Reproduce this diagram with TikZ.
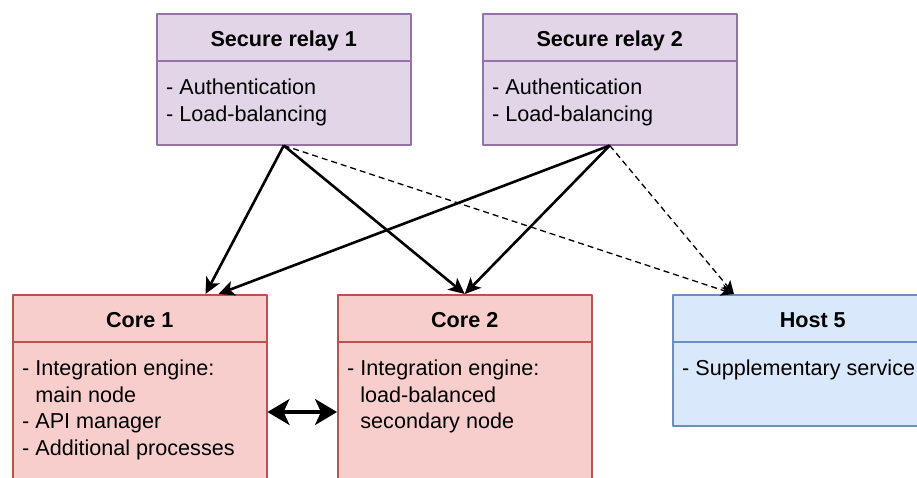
\documentclass[tikz,border=0pt]{standalone}
\usepackage{fontspec}
\setmainfont{Liberation Sans}
\usetikzlibrary{arrows.meta}
\definecolor{relayfill}{HTML}{E1D5E7}
\definecolor{relayline}{HTML}{9673A6}
\definecolor{corefill}{HTML}{F8CECC}
\definecolor{coreline}{HTML}{B85450}
\definecolor{hostfill}{HTML}{DAE8FC}
\definecolor{hostline}{HTML}{6C8EBF}
\newcommand\lanefont{\fontsize{21.6pt}{26.4pt}\selectfont}
\tikzset{
    lane/.style={draw, line width=1.5pt, anchor=north west, inner sep=0pt,
        minimum width=254pt, minimum height=131pt},
    relay/.style={lane, fill=relayfill, draw=relayline},
    core/.style={lane, fill=corefill, draw=coreline, minimum height=240pt},
    host/.style={lane, fill=hostfill, draw=hostline, minimum width=280pt},
    title/.style={anchor=base, font=\lanefont\bfseries},
    items/.style={anchor=north west, align=left, inner sep=0pt},
    link/.style={line width=2.6pt, -{Stealth[length=16pt,width=15pt,inset=4pt]}},
    maybe/.style={line width=1.3pt, dash pattern=on 6pt off 4pt,
        -{Stealth[length=13pt,width=12pt,inset=3pt]}},
    sync/.style={line width=3.2pt,
        {Stealth[length=22pt,width=26pt,inset=6pt]}-{Stealth[length=22pt,width=26pt,inset=6pt]}}
}
\begin{document}
\begin{tikzpicture}[x=1pt, y=-1pt, line join=round, font=\lanefont]
    \useasboundingbox (0,0) rectangle (917,477);
    \clip (0,0) rectangle (917,477);
    \node[relay] (r1) at (156,13) {};
    \node[relay] (r2) at (482,13) {};
    \node[core] (c1) at (12,294) {};
    \node[core] (c2) at (337,294) {};
    \node[host] (h5) at (672,294) {};
    \foreach \n/\c in {r1/relayline, r2/relayline, c1/coreline, c2/coreline, h5/hostline}
        \draw[\c, line width=1.5pt] ([yshift=-48pt]\n.north west) -- ([yshift=-48pt]\n.north east);
    \node[title] (r1t) at ([yshift=-33pt]r1.north) {Secure relay 1};
    \node[title] (r2t) at ([yshift=-33pt]r2.north) {Secure relay 2};
    \node[title] (c1t) at ([yshift=-33pt]c1.north) {Core 1};
    \node[title] (c2t) at ([yshift=-33pt]c2.north) {Core 2};
    \node[title] (h5t) at ([yshift=-33pt]h5.north) {Host 5};
    \node[items] (r1b) at ([xshift=10pt,yshift=-66pt]r1.north west) {- Authentication\\- Load-balancing};
    \node[items] (r2b) at ([xshift=10pt,yshift=-66pt]r2.north west) {- Authentication\\- Load-balancing};
    \node[items] (c1b) at ([xshift=10pt,yshift=-66pt]c1.north west)
        {- Integration engine:\\\hphantom{- }main node\\- API manager\\- Additional processes};
    \node[items] (c2b) at ([xshift=10pt,yshift=-66pt]c2.north west)
        {- Integration engine:\\\hphantom{- }load-balanced\\\hphantom{- }secondary node};
    \node[items] (h5b) at ([xshift=10pt,yshift=-66pt]h5.north west) {- Supplementary service};
    \draw[link] (r1.south) -- ([xshift=-62pt]c1.north east);
    \draw[link] (r2.south) -- ([xshift=-49pt]c1.north east);
    \draw[link] (r1.south) -- (c2.north);
    \draw[link] (r2.south) -- (c2.north);
    \draw[maybe] (r1.south) -- ([xshift=62pt]h5.north west);
    \draw[maybe] (r2.south) -- ([xshift=62pt]h5.north west);
    \draw[sync] ([yshift=-118pt]c1.north east) -- ([yshift=-118pt]c2.north west);
\end{tikzpicture}
\end{document}
